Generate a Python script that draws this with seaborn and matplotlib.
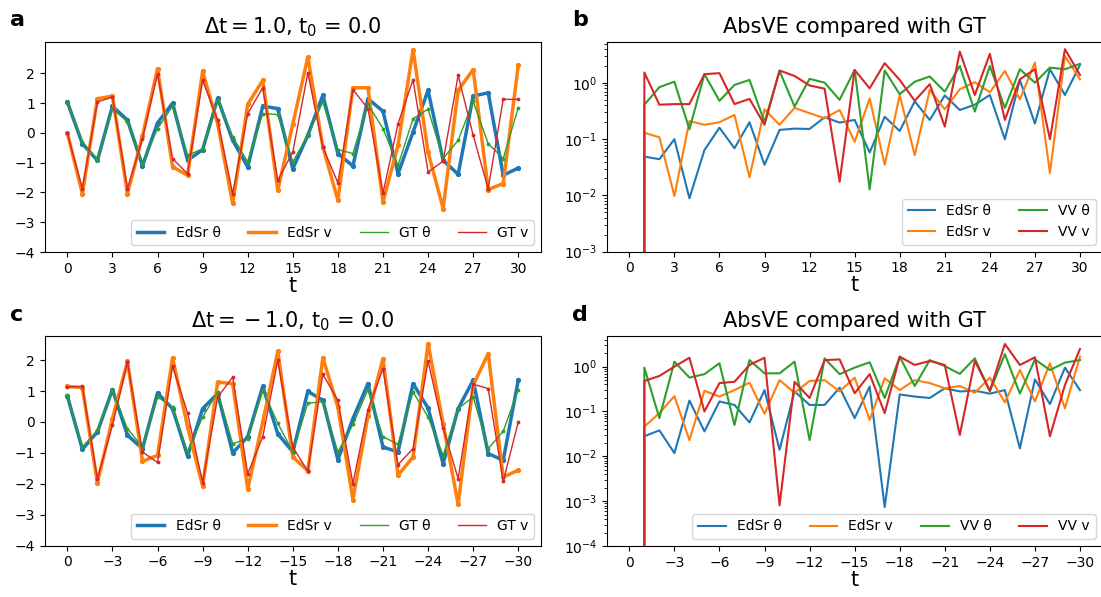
import numpy as np
import matplotlib
matplotlib.use("Agg")
import matplotlib.pyplot as plt
import seaborn as sns

t = np.arange(31)

# panel a: dt = 1.0
a_edsr_theta = [1.04, -0.36, -0.92, 0.90, 0.43, -1.10, 0.34, 1.00, -0.92, -0.56, 1.16, -0.25, -1.14, 0.90, 0.82,
                -1.20, -0.08, 1.27, -0.69, -1.11, 1.15, 0.73, -1.37, 0.03, 1.43, -0.92, -1.39, 1.24, 1.35, -1.42, -1.18]
a_edsr_v = [0.00, -2.04, 1.15, 1.24, -2.04, -0.10, 2.16, -1.14, -1.42, 2.07, 0.31, -2.37, 0.96, 1.77, -1.92,
            0.30, 2.55, -0.47, -2.26, 1.52, 1.52, -2.32, -0.41, 2.80, -0.64, -2.54, 1.43, 2.13, -1.90, -1.70, 2.27]
a_gt_theta = [1.04, -0.30, -0.90, 0.82, 0.37, -1.03, 0.15, 0.90, -0.75, -0.53, 1.10, -0.13, -0.97, 0.65, 0.62,
              -0.97, -0.08, 1.04, -0.56, -0.69, 0.96, 0.15, -1.09, 0.48, 0.80, -0.86, -0.25, 1.06, -0.36, -0.86, 0.85]
a_gt_v = [0.00, -1.87, 1.04, 1.21, -1.87, -0.19, 1.99, -0.86, -1.37, 1.77, 0.43, -2.04, 0.65, 1.52, -1.59,
          -0.64, 2.02, -0.47, -1.68, 1.46, 0.82, -2.02, 0.31, 1.79, -1.31, -0.95, 1.94, -0.08, -1.87, 1.13, 1.13]

# panel b: abs error, dt = 1.0
b_edsr_theta = [0, 0.049, 0.044, 0.10, 0.0089, 0.064, 0.16, 0.069, 0.20, 0.035, 0.146, 0.154, 0.152, 0.245, 0.197,
                0.22, 0.058, 0.25, 0.14, 0.47, 0.22, 0.60, 0.33, 0.41, 0.61, 0.10, 1.13, 0.19, 1.75, 0.61, 2.09]
b_edsr_v = [0, 0.13, 0.108, 0.0098, 0.21, 0.18, 0.20, 0.27, 0.021, 0.34, 0.18, 0.36, 0.29, 0.235, 0.33,
            0.09, 0.53, 0.035, 0.61, 0.052, 0.75, 0.34, 0.77, 1.03, 0.68, 1.63, 0.51, 2.3, 0.025, 3.0, 1.16]
b_vv_theta = [0, 0.41, 0.84, 1.05, 0.15, 1.43, 0.48, 0.92, 1.13, 0.20, 1.63, 0.38, 1.18, 1.01, 0.50,
              1.70, 0.0128, 1.66, 0.63, 1.05, 1.30, 0.70, 2.0, 0.31, 2.0, 0.36, 1.75, 1.01, 1.87, 1.75, 2.18]
b_vv_v = [0, 1.53, 0.41, 0.42, 0.42, 1.43, 1.49, 0.42, 0.52, 0.18, 1.66, 1.33, 0.90, 0.79, 0.0175,
          1.70, 0.80, 2.24, 1.13, 0.48, 0.95, 0.167, 3.6, 0.61, 3.28, 0.22, 1.16, 1.75, 0.10, 3.98, 1.39]

# panel c: dt = -1.0
c_edsr_theta = [0.84, -0.88, -0.32, 1.05, -0.43, -0.86, 0.94, 0.43, -1.10, 0.43, 0.92, -1.00, -0.48, 1.15, -0.38,
                -0.97, 0.99, 0.70, -1.22, 0.11, 1.24, -0.81, -0.97, 1.24, 0.45, -1.35, 0.43, 1.35, -1.02, -1.24, 1.35]
c_edsr_v = [1.15, 1.11, -1.97, 0.11, 1.96, -1.27, -1.08, 2.07, -0.16, -2.07, 1.29, 1.24, -2.16, 0.00, 2.28,
            -1.13, -1.58, 2.08, 0.48, -2.51, 0.20, 2.05, -1.72, -1.13, 2.53, -0.05, -2.66, 1.19, 2.21, -1.78, -1.56]
c_gt_theta = [0.86, -0.81, -0.27, 1.02, -0.22, -0.81, 0.81, 0.48, -0.97, 0.16, 0.97, -0.70, -0.54, 1.02, -0.04,
              -0.97, 0.61, 0.65, -0.97, -0.08, 1.05, -0.48, -0.72, 0.97, 0.16, -1.08, 0.43, 0.81, -0.86, -0.30, 1.05]
c_gt_v = [1.13, 1.15, -1.83, -0.11, 1.94, -0.97, -1.31, 1.80, 0.29, -1.96, 0.80, 1.45, -1.67, -0.48, 1.99,
          -0.81, -1.59, 1.54, 0.70, -1.99, 0.40, 1.72, -1.38, -0.86, 1.97, -0.19, -1.83, 1.22, 1.08, -1.92, 0.00]

# panel d: abs error, dt = -1.0
d_edsr_theta = [0, 0.028, 0.038, 0.0118, 0.175, 0.036, 0.167, 0.14, 0.057, 0.30, 0.014, 0.28, 0.14, 0.14, 0.34,
                0.071, 0.36, 0.00074, 0.24, 0.215, 0.20, 0.33, 0.28, 0.29, 0.25, 0.30, 0.015, 0.52, 0.146, 0.95, 0.30]
d_edsr_v = [0, 0.046, 0.092, 0.22, 0.023, 0.29, 0.215, 0.30, 0.44, 0.089, 0.50, 0.26, 0.48, 0.50, 0.28,
            0.57, 0.065, 0.55, 0.30, 0.50, 0.43, 0.33, 0.37, 0.26, 0.57, 0.16, 0.84, 0.167, 1.19, 0.118, 1.67]
d_vv_theta = [0, 0.95, 0.071, 1.29, 0.57, 0.68, 1.19, 0.05, 1.40, 0.71, 0.71, 1.29, 0.023, 1.53, 0.68,
              0.95, 1.25, 0.20, 1.67, 0.37, 1.40, 1.03, 0.69, 1.53, 0.28, 1.90, 0.25, 1.45, 0.84, 1.23, 1.40]
d_vv_v = [0, 0.48, 0.62, 1.00, 1.58, 0.10, 0.43, 0.46, 1.09, 1.58, 0.00081, 0.46, 0.20, 1.40, 1.45,
          0.255, 0.68, 0.092, 1.67, 1.09, 1.34, 1.09, 0.03, 1.34, 0.29, 3.2, 1.09, 1.61, 0.028, 0.39, 2.47]

C = sns.color_palette("tab10")

fig = plt.figure(figsize=(11.01, 5.97), dpi=100)
W, H = 1101, 597


def box(l, r, top, bot):
    return [l / W, 1 - bot / H, (r - l) / W, (bot - top) / H]


ax_a = fig.add_axes(box(44.8, 540.8, 41.7, 252))
ax_b = fig.add_axes(box(606.8, 1102.5, 41.7, 251.7))
ax_c = fig.add_axes(box(44.8, 540.8, 335.7, 545.7))
ax_d = fig.add_axes(box(606.8, 1102.5, 335.7, 546))


def traj(ax, x, th, v, gth, gv, title):
    sns.lineplot(x=x, y=th, ax=ax, color=C[0], lw=2.5, marker='o', ms=3, mec=C[0], label='EdSr θ')
    sns.lineplot(x=x, y=v, ax=ax, color=C[1], lw=2.5, marker='o', ms=3, mec=C[1], label='EdSr v')
    sns.lineplot(x=x, y=gth, ax=ax, color=C[2], lw=1, marker='o', ms=2, mec=C[2], label='GT θ')
    sns.lineplot(x=x, y=gv, ax=ax, color=C[3], lw=1, marker='o', ms=2, mec=C[3], label='GT v')
    ax.set_ylim(bottom=-4)
    ax.set_yticks([-4, -3, -2, -1, 0, 1, 2])
    leg = ax.legend(ncol=4, loc='lower right', fontsize=10)
    for ln in leg.get_lines():
        ln.set_marker('')
    ax.set_title(title, fontsize=15)
    ax.set_xlabel('t', fontsize=15, labelpad=0)


def err(ax, x, th, v, vth, vv, ylim, ncol):
    sns.lineplot(x=x, y=th, ax=ax, color=C[0], lw=1.5, label='EdSr θ')
    sns.lineplot(x=x, y=v, ax=ax, color=C[1], lw=1.5, label='EdSr v')
    sns.lineplot(x=x, y=vth, ax=ax, color=C[2], lw=1.5, label='VV θ')
    sns.lineplot(x=x, y=vv, ax=ax, color=C[3], lw=1.5, label='VV v')
    ax.set_yscale('log')
    ax.set_ylim(*ylim)
    ax.legend(ncol=ncol, loc='lower right', fontsize=10)
    ax.set_title('AbsVE compared with GT', fontsize=15)
    ax.set_xlabel('t', fontsize=15, labelpad=0)


traj(ax_a, t, a_edsr_theta, a_edsr_v, a_gt_theta, a_gt_v, r'$\Delta \mathrm{t} = 1.0$, t$_0$ = 0.0')
err(ax_b, t, b_edsr_theta, b_edsr_v, b_vv_theta, b_vv_v, (1e-3, 5.4), 2)
traj(ax_c, -t, c_edsr_theta, c_edsr_v, c_gt_theta, c_gt_v, r'$\Delta \mathrm{t} = {} - 1.0$, t$_0$ = 0.0')
err(ax_d, -t, d_edsr_theta, d_edsr_v, d_vv_theta, d_vv_v, (1e-4, 4.9), 4)

for ax in (ax_a, ax_b):
    ax.set_xticks(np.arange(0, 31, 3))
    ax.set_xlim(-1.5, 31.5)
for ax in (ax_c, ax_d):
    ax.set_xticks(-np.arange(0, 31, 3))
    ax.set_xlim(1.5, -31.5)
for ax in (ax_a, ax_b, ax_c, ax_d):
    ax.set_ylabel('')
    ax.tick_params(labelsize=10)

for s, x, y in [('a', 10, 20), ('b', 572, 20), ('c', 10, 315), ('d', 572, 315)]:
    fig.text(x / W, 1 - y / H, s, fontsize=16, fontweight='bold', va='center', ha='left')

fig.savefig('out.png', dpi=100)
